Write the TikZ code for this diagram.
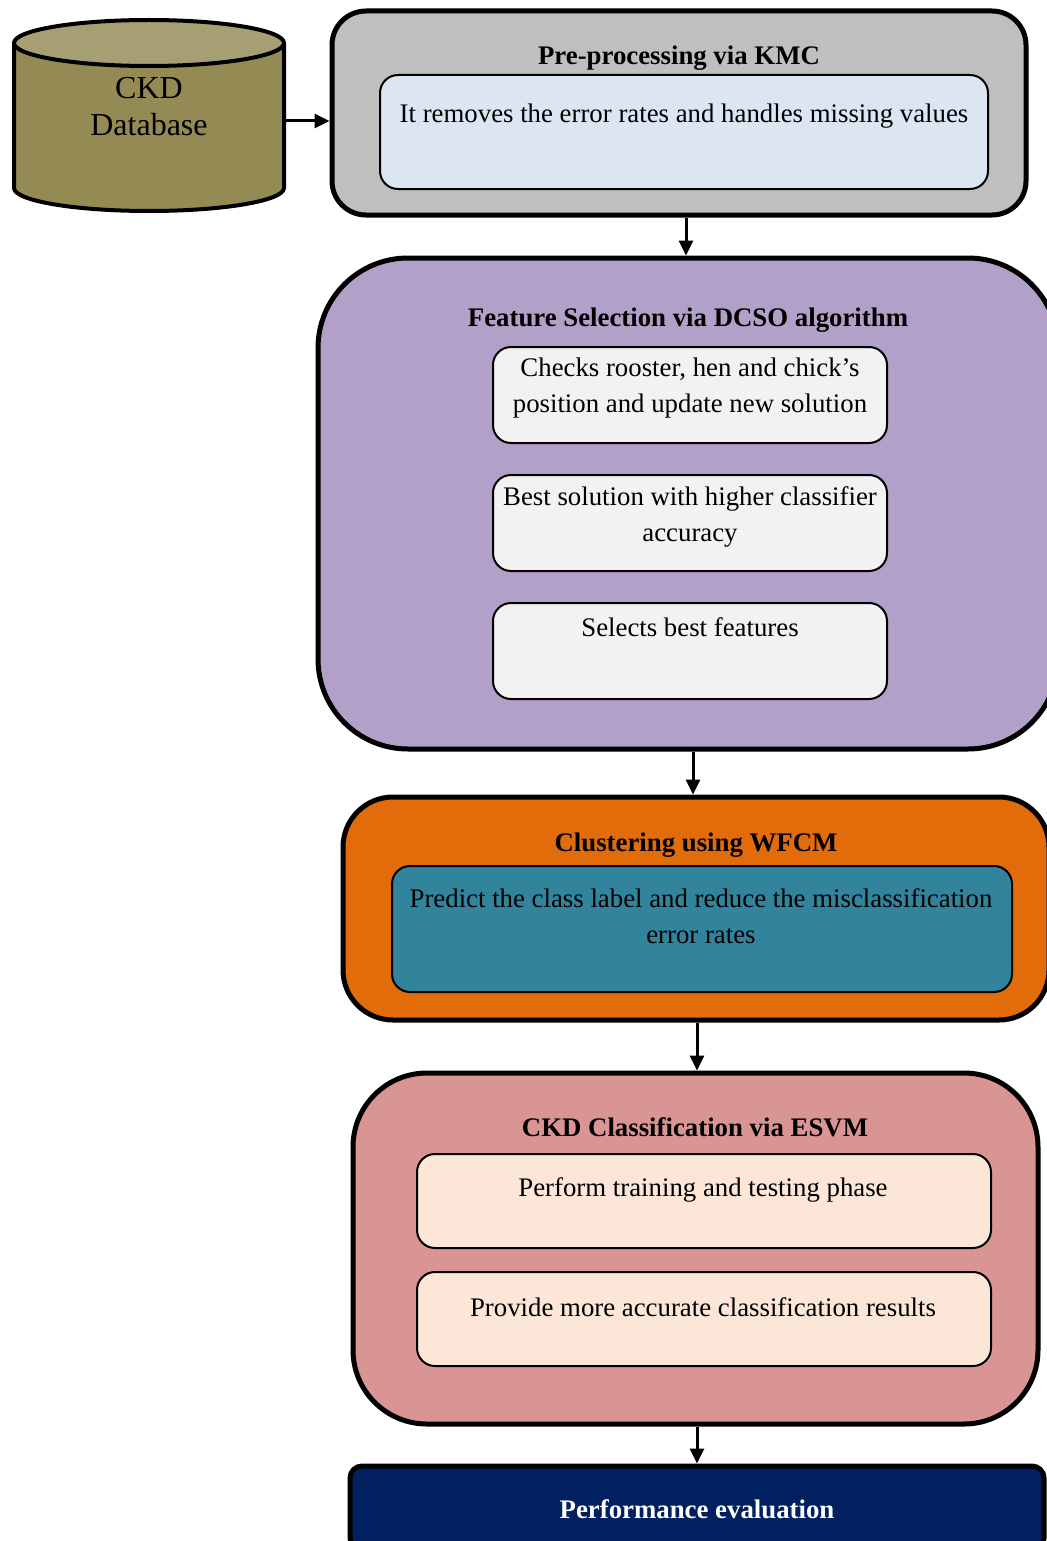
\documentclass[tikz,border=0pt]{standalone}
\usepackage{fontspec}
\setmainfont{Liberation Serif}
\usepackage{tikz}
\usetikzlibrary{arrows.meta,positioning,calc}
\usepackage{xcolor}
\definecolor{dbbody}{HTML}{948A54}
\definecolor{dbtop}{HTML}{A69F74}
\definecolor{preg}{HTML}{BFBFBF}
\definecolor{prein}{HTML}{DCE6F2}
\definecolor{fsel}{HTML}{B1A0C7}
\definecolor{fsin}{HTML}{F2F2F2}
\definecolor{clus}{HTML}{E36C0A}
\definecolor{clin}{HTML}{31849B}
\definecolor{esvm}{HTML}{D99594}
\definecolor{esin}{HTML}{FBE6D8}
\definecolor{perf}{HTML}{002060}

\begin{document}
\begin{tikzpicture}[x=0.5pt, y=0.5pt, every node/.style={font=\fontsize{13.4}{18}\selectfont}]
\tikzset{stage/.style={draw, line width=2.5pt, inner sep=0pt}}
\tikzset{sub/.style={draw, line width=1pt, rounded corners=9pt, inner sep=0pt}}
\tikzset{ttl/.style={font=\fontsize{13.4}{16}\selectfont\bfseries, inner sep=0pt}}
\tikzset{txt/.style={align=center, inner sep=0pt}}
\tikzset{flow/.style={line width=1.5pt, -{Triangle[length=7.5pt, width=7pt]}}}
\useasboundingbox (0,0) rectangle (1046,-1541);
% database
\fill[dbbody] (14,-43) -- (14,-188) arc[start angle=180, end angle=360, x radius=67.5pt, y radius=11.5pt] -- (284,-43) -- cycle;
\draw[line width=2pt] (14,-43) -- (14,-188) arc[start angle=180, end angle=360, x radius=67.5pt, y radius=11.5pt] -- (284,-43);
\filldraw[fill=dbtop, line width=2pt] (149,-43) ellipse [x radius=67.5pt, y radius=11.5pt];
\node[txt, font=\fontsize{16}{18.5}\selectfont] (db) at (149,-107) {CKD\\Database};
\coordinate (dbout) at (284,-121);
% pre-processing
\node[stage, fill=preg, rounded corners=17pt, minimum width=347pt, minimum height=102pt] (pre) at (679,-113) {};
\node[ttl] (preT) at (679,-58) {Pre-processing via KMC};
\node[sub, fill=prein, minimum width=304pt, minimum height=57pt] (preS) at (684,-132) {};
\node[txt] (preST) at (684,-116) {It removes the error rates and handles missing values};
% feature selection
\node[stage, fill=fsel, rounded corners=45pt, minimum width=370pt, minimum height=245.5pt] (fs) at (688,-503.5) {};
\node[ttl] (fsT) at (688,-320) {Feature Selection via DCSO algorithm};
\node[sub, fill=fsin, minimum width=197pt, minimum height=48pt] (fs1) at (690,-395) {};
\node[sub, fill=fsin, minimum width=197pt, minimum height=48pt] (fs2) at (690,-523) {};
\node[sub, fill=fsin, minimum width=197pt, minimum height=48pt] (fs3) at (690,-651) {};
\node[txt] (fs1T) at (690,-388) {Checks rooster, hen and chick's\\position and update new solution};
\node[txt] (fs2T) at (690,-517) {Best solution with higher classifier\\accuracy};
\node[txt] (fs3T) at (690,-627) {Selects best features};
% clustering
\node[stage, fill=clus, rounded corners=25pt, minimum width=353pt, minimum height=111.5pt] (cl) at (696,-908.5) {};
\node[ttl] (clT) at (696,-845) {Clustering using WFCM};
\node[sub, fill=clin, minimum width=310pt, minimum height=63pt] (clS) at (702,-929) {};
\node[txt] (clST) at (701,-916.5) {Predict the class label and reduce the misclassification\\error rates};
% classification
\node[stage, fill=esvm, rounded corners=37pt, minimum width=342.5pt, minimum height=175.5pt] (es) at (695.5,-1248.5) {};
\node[ttl] (esT) at (695,-1127) {CKD Classification via ESVM};
\node[sub, fill=esin, minimum width=287pt, minimum height=47pt] (es1) at (704,-1201) {};
\node[sub, fill=esin, minimum width=287pt, minimum height=47pt] (es2) at (704,-1319) {};
\node[txt] (es1T) at (703,-1190) {Perform training and testing phase};
\node[txt] (es2T) at (703,-1307) {Provide more accurate classification results};
% evaluation
\node[stage, fill=perf, rounded corners=6pt, minimum width=347pt, minimum height=42pt] (pe) at (697,-1508) {};
\node[ttl, text=white] (peT) at (697,-1509) {Performance evaluation};
% arrows
\draw[flow] (dbout) -- (dbout -| pre.west);
\draw[flow] ([xshift=3.5pt]pre.south) -- ([xshift=3.5pt]pre.south |- fs.north);
\draw[flow] ([xshift=2.5pt]fs.south) -- ([xshift=2.5pt]fs.south |- cl.north);
\draw[flow] ([xshift=0.5pt]cl.south) -- ([xshift=0.5pt]cl.south |- es.north);
\draw[flow] ([xshift=0.75pt]es.south) -- ([xshift=0.75pt]es.south |- pe.north);
\end{tikzpicture}
\end{document}
